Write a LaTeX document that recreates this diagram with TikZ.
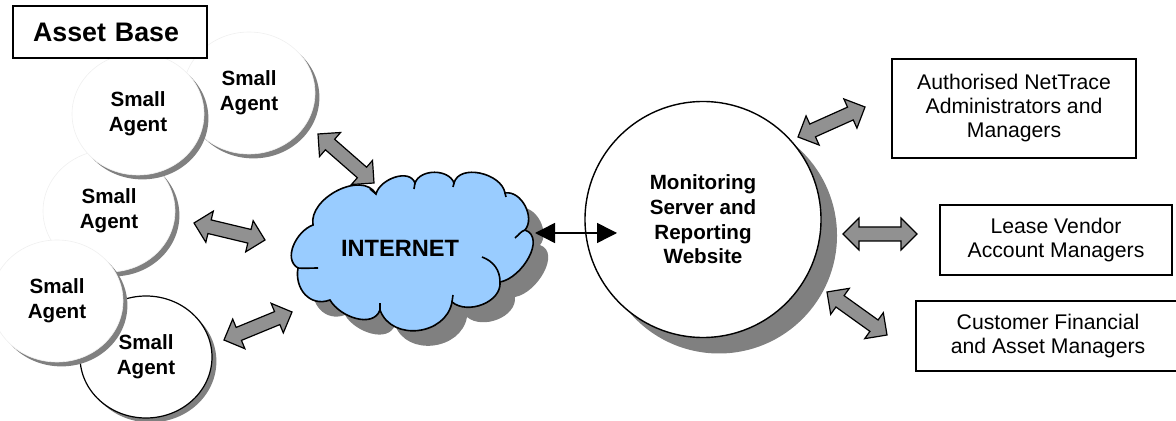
\documentclass[tikz,border=0pt]{standalone}
\usepackage{fontspec}
\setmainfont{Liberation Sans}
\usetikzlibrary{calc,arrows.meta,shapes.geometric,shadows}
\definecolor{shadowgray}{RGB}{128,128,128}
\definecolor{arrowgray}{RGB}{145,145,145}
\definecolor{cloudblue}{RGB}{153,204,255}
\newcommand\blockarrow[2]{%
  \draw[blockarr] (#1)
    -- ($(#1)!8pt!(#2)!8pt!90:(#2)$)
    -- ($(#1)!8pt!(#2)!3.5pt!90:(#2)$)
    -- ($(#2)!8pt!(#1)!3.5pt!-90:(#1)$)
    -- ($(#2)!8pt!(#1)!8pt!-90:(#1)$)
    -- (#2)
    -- ($(#2)!8pt!(#1)!8pt!90:(#1)$)
    -- ($(#2)!8pt!(#1)!3.5pt!90:(#1)$)
    -- ($(#1)!8pt!(#2)!3.5pt!-90:(#2)$)
    -- ($(#1)!8pt!(#2)!8pt!-90:(#2)$)
    -- cycle;}
\newcommand\cloudoutline{(313,-225) to[out=100,in=120] (376,-194)
  to[out=75,in=110] (415,-183) to[out=70,in=110] (454,-183)
  to[out=75,in=100] (505,-193) to[out=10,in=50] (525,-230)
  to[out=-20,in=10] (500,-282) to[out=-85,in=-40] (452,-302)
  to[out=-100,in=-70,looseness=1.2] (380,-310) to[out=-110,in=-60] (330,-300)
  to[out=200,in=260,looseness=1.2] (298,-268) to[out=150,in=200] (313,-225) -- cycle}
\begin{document}
\begin{tikzpicture}[x=0.5pt,y=0.5pt,
  agent/.style={ellipse, minimum width=66pt, minimum height=61pt, inner sep=0pt,
    fill=white, draw=black!6, line width=0.3pt, align=center,
    font=\fontsize{10.3}{12.4}\selectfont\bfseries,
    drop shadow={shadow xshift=2.2pt, shadow yshift=-2.2pt, fill=shadowgray, draw=none, opacity=1}},
  agentout/.style={agent, draw=black, line width=0.6pt},
  server/.style={circle, minimum size=118pt, inner sep=0pt, fill=white, draw=black,
    line width=0.7pt, align=center, font=\fontsize{10.3}{12.3}\selectfont\bfseries,
    drop shadow={shadow xshift=8pt, shadow yshift=-8pt, fill=shadowgray, draw=none, opacity=1}},
  userbox/.style={rectangle, draw=black, line width=0.75pt, fill=white, align=center,
    inner sep=0pt, font=\fontsize{10.6}{12}\selectfont},
  basebox/.style={rectangle, draw=black, line width=0.75pt, fill=white, align=left,
    text width=77pt, inner xsep=10pt, minimum height=26pt,
    font=\fontsize{13.4}{15}\selectfont\bfseries},
  blockarr/.style={fill=arrowgray, draw=black, line width=0.6pt, line join=miter},
  link/.style={line width=0.75pt, {Triangle[length=10pt,width=10pt]}-{Triangle[length=10pt,width=10pt]}},
  tick/.style={line width=0.8pt}
]
\useasboundingbox (0,0) rectangle (1176,-421);

% agents
\node[agent] (a1) at (249,-93) {Small\\Agent};
\node[agent] (a3) at (109,-211) {Small\\Agent};
\node[agent] (a2) at (138,-114) {Small\\Agent};
\node[agentout] (a5) at (146,-357) {Small\\Agent};
\node[agent] (a4) at (57,-301) {Small\\Agent};

\node[basebox] (base) at (110,-32) {Asset Base};

% cloud
\fill[shadowgray, shift={(15,-15)}] \cloudoutline;
\filldraw[fill=cloudblue, draw=black, line width=0.8pt] \cloudoutline;
\draw[tick] (525,-230) to[out=200,in=40] (515,-238);
\draw[tick] (482,-257) to[out=-20,in=90] (500,-282);
\draw[tick] (298,-268) to[out=-5,in=180] (318,-268);
\draw[tick] (370,-189) -- (376,-194);
\draw[tick] (380,-310) -- (380,-303);
\draw[tick] (452,-302) -- (453,-295);
\draw[tick] (415,-183) -- (414,-189);
\draw[tick] (454,-183) -- (453,-187);
\draw[tick] (505,-193) -- (506,-197);
\node[font=\fontsize{11.8}{14}\selectfont\bfseries] (inet) at (400,-248) {INTERNET};

% server
\node[server] (srv) at (703,-219.5) {Monitoring\\Server and\\Reporting\\Website};

% user boxes
\node[userbox, minimum width=122pt, minimum height=49.5pt] (u1) at (1014,-108.5) {Authorised NetTrace\\Administrators and\\Managers};
\node[userbox, minimum width=116pt, minimum height=35pt] (u2) at (1056,-240) {Lease Vendor\\Account Managers};
\node[userbox, minimum width=132pt, minimum height=35pt] (u3) at (1048,-336) {Customer Financial\\and Asset Managers};

% block arrows
\coordinate (p1a) at (318,-134); \coordinate (p1b) at (374,-183);
\coordinate (p2a) at (194,-223); \coordinate (p2b) at (265,-240);
\coordinate (p3a) at (224,-340); \coordinate (p3b) at (292,-312);
\coordinate (p4a) at (798,-137); \coordinate (p4b) at (865,-107);
\coordinate (p5a) at (843,-234); \coordinate (p5b) at (917,-234);
\coordinate (p6a) at (827,-292); \coordinate (p6b) at (887,-335);
\blockarrow{p1a}{p1b}
\blockarrow{p2a}{p2b}
\blockarrow{p3a}{p3b}
\blockarrow{p4a}{p4b}
\blockarrow{p5a}{p5b}
\blockarrow{p6a}{p6b}

% internet <-> server
\coordinate (k1) at (535,-233);
\coordinate (k2) at (617,-233);
\draw[link] (k1) -- (k2);
\end{tikzpicture}
\end{document}
